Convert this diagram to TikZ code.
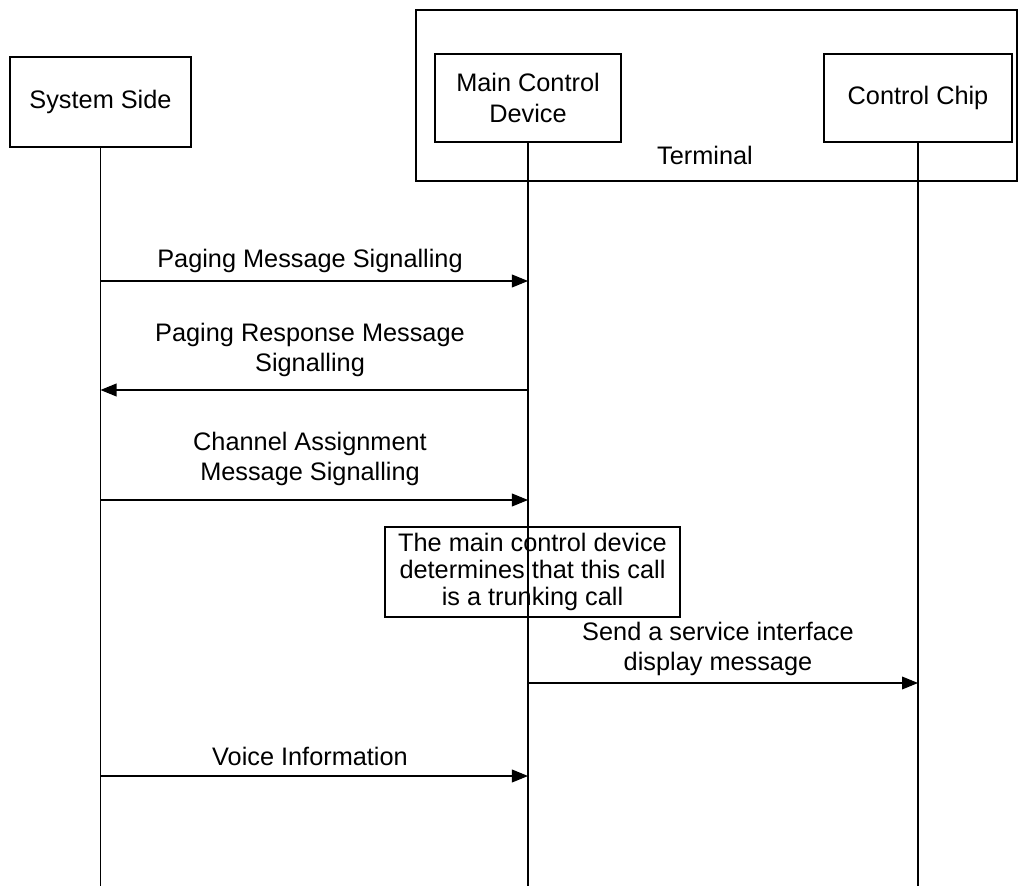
\documentclass[tikz,border=0pt]{standalone}
\usepackage{fontspec}
\setmainfont{Liberation Sans}
\usetikzlibrary{arrows.meta}

\tikzset{
  lane/.style={draw,line width=1pt,align=center,inner sep=0pt},
  life/.style={line width=1pt},
  msg/.style={line width=0.8pt,-{Triangle[length=0.4cm,width=0.32cm]}},
  msgtext/.style={align=center},
}

\begin{document}
\begin{tikzpicture}[x=0.025cm,y=-0.025cm,font=\fontsize{18}{21.5}\selectfont]
\useasboundingbox (0,0) rectangle (1022,886);

\draw[line width=1pt] (416,10) rectangle (1017,181);
\node (term) at (705,155) {Terminal};

\node[lane,minimum width=4.525cm,minimum height=2.25cm] (sys) at (100.5,102) {System Side};
\node[lane,minimum width=4.65cm,minimum height=2.2cm] (mcd) at (528,98) {Main Control\\Device};
\node[lane,minimum width=4.7cm,minimum height=2.2cm] (chip) at (918,98) {Control Chip};

\coordinate (sysend) at (sys.south |- 0,886);
\coordinate (mcdend) at (mcd.south |- 0,886);
\coordinate (chipend) at (chip.south |- 0,886);
\draw[life] (sys.south) -- (sysend);
\draw[life] (mcd.south) -- (mcdend);
\draw[life] (chip.south) -- (chipend);

\coordinate (s1) at (sys.south |- 0,281);
\coordinate (m1) at (mcd.south |- 0,281);
\coordinate (s2) at (sys.south |- 0,390);
\coordinate (m2) at (mcd.south |- 0,390);
\coordinate (s3) at (sys.south |- 0,500);
\coordinate (m3) at (mcd.south |- 0,500);
\coordinate (m5) at (mcd.south |- 0,683);
\coordinate (c5) at (chip.south |- 0,683);
\coordinate (s6) at (sys.south |- 0,776);
\coordinate (m6) at (mcd.south |- 0,776);

\draw[msg] (s1) -- (m1);
\node[msgtext] (paging) at (310,261) {Paging Message Signalling};

\draw[msg] (m2) -- (s2);
\node[msgtext] (pagingresp) at (310,350) {Paging Response Message\\Signalling};

\draw[msg] (s3) -- (m3);
\node[msgtext] (chassign) at (310,459) {Channel Assignment\\Message Signalling};

\node[draw,line width=0.8pt,align=center,minimum width=7.375cm,minimum height=2.25cm,
  font=\fontsize{18}{19.2}\selectfont] (trunk) at (532.5,572) {The main control device\\determines that this call\\is a trunking call};

\draw[msg] (m5) -- (c5);
\node[msgtext] (service) at (718,649) {Send a service interface\\display message};

\draw[msg] (s6) -- (m6);
\node[msgtext] (voice) at (310,756) {Voice Information};

\end{tikzpicture}
\end{document}
